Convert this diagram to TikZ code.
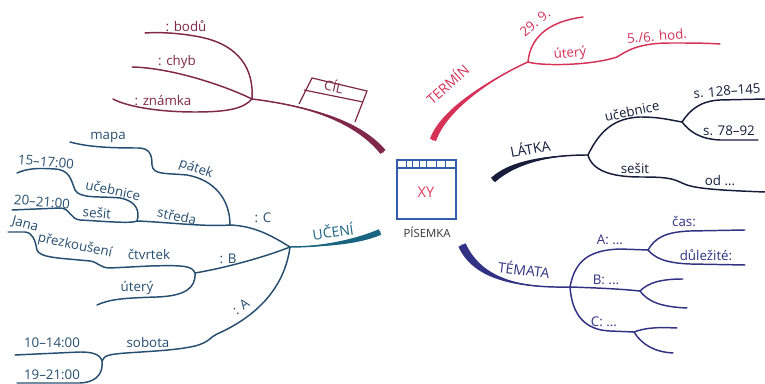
\documentclass[tikz,border=0pt]{standalone}
\usepackage{fontspec}
\setmainfont{Open Sans}

\definecolor{cilcol}{RGB}{128,40,72}
\definecolor{termcol}{RGB}{214,50,88}
\definecolor{latkacol}{RGB}{22,28,58}
\definecolor{temacol}{RGB}{50,50,132}
\definecolor{ucecol}{RGB}{25,100,128}
\definecolor{ucethin}{RGB}{38,78,112}
\definecolor{boxcol}{RGB}{52,92,170}
\definecolor{xycol}{RGB}{222,62,92}

\tikzset{every picture/.style={line width=0.75pt}}
\tikzset{
  twig/.style={line width=1.1pt, line cap=round, line join=round},
  lbl/.style={inner sep=0.75pt, font=\fontsize{10}{12}\selectfont},
  biglbl/.style={inner sep=0.75pt, font=\fontsize{10.5}{12}\selectfont},
}

\begin{document}
\begin{tikzpicture}[x=0.75pt,y=0.75pt,yscale=-1,xscale=1]
\useasboundingbox (0,0) rectangle (765,384);

%Shape: Rectangle [centre box]
\draw [boxcol, line width=1.1pt] (397,160) rectangle (456,219);
\draw [boxcol, line width=1.1pt] (397,168) -- (456,168);
\foreach \x in {406,412,419,426,436,445} \draw [boxcol] (\x,160) -- (\x,168);
\node [biglbl, text=xycol, font=\fontsize{11}{13}\selectfont] (xy) at (426,192) {XY};
\node [lbl, text=black!80, font=\fontsize{8.5}{10}\selectfont] (pisemka) at (427,232) {PÍSEMKA};

%CIL
\coordinate (cilroot) at (383,152);
\coordinate (cilj) at (252,99);
\fill [cilcol] (cilj) .. controls (300,105) and (357,116.4) .. (385.5,150) -- (380.5,154) .. controls (353,119.6) and (300,105) .. (cilj) -- cycle;
\draw [twig, cilcol] (cilj) .. controls (300,105) and (355,118) .. (cilroot);
\draw [twig, cilcol] (cilj) .. controls (254,70) and (240,45) .. (200,37) .. controls (180,33) and (160,32) .. (145,33);
\draw [twig, cilcol] (cilj) .. controls (230,88) and (175,68) .. (132,67);
\draw [twig, cilcol] (cilj) .. controls (244,108) and (230,112) .. (195,112) .. controls (160,112) and (128,107) .. (113,99);
%sign
\draw [cilcol, line width=0.9pt] (299,104) -- (312,78) -- (367,91) -- (355,122);
\draw [cilcol, line width=0.9pt] (304,90) -- (363,102);
\node [lbl, text=cilcol, rotate=-13] (cil) at (334,86) {CÍL};
\node [lbl, text=cilcol] (bodu) at (186,26) {: bodů};
\node [lbl, text=cilcol] (chyb) at (177,62) {: chyb};
\node [lbl, text=cilcol] (znamka) at (163,100) {: známka};

%TERMIN
\coordinate (termroot) at (433,140);
\coordinate (termj) at (528,62);
\fill [termcol] (termj) .. controls (505,72) and (447.8,106) .. (436,141.2) -- (430,138.8) .. controls (442.2,104) and (505,72) .. (termj) -- cycle;
\draw [twig, termcol] (termj) .. controls (505,72) and (445,105) .. (termroot);
\draw [twig, termcol] (termj) .. controls (530,40) and (545,22) .. (583,17);
\draw [twig, termcol] (termj) .. controls (540,66) and (590,66) .. (617,57) .. controls (628,50) and (640,43) .. (670,43) .. controls (690,43) and (705,43) .. (720,44);
\node [biglbl, text=termcol, rotate=42] (termin) at (447,84) {TERMÍN};
\node [lbl, text=termcol, rotate=40] (datum) at (535,23) {29. 9.};
\node [lbl, text=termcol, rotate=5] (utery) at (570,54) {úterý};
\node [lbl, text=termcol, rotate=5] (hod) at (657,36) {5./6. hod.};

%LATKA
\coordinate (latkaroot) at (493,180);
\coordinate (latkaj) at (588,155);
\coordinate (ucebj) at (682,122);
\fill [latkacol] (latkaj) .. controls (555,155) and (517,162.2) .. (495,182.2) -- (491,177.8) .. controls (513,157.8) and (555,155) .. (latkaj) -- cycle;
\draw [twig, latkacol] (latkaj) .. controls (555,155) and (515,160) .. (latkaroot);
\draw [twig, latkacol] (latkaj) .. controls (600,130) and (615,118) .. (640,117) .. controls (660,117) and (670,120) .. (ucebj);
\draw [twig, latkacol] (ucebj) .. controls (690,110) and (700,101) .. (720,100) -- (765,99);
\draw [twig, latkacol] (ucebj) .. controls (690,132) and (700,139) .. (720,140) -- (758,140);
\draw [twig, latkacol] (latkaj) .. controls (592,170) and (610,177) .. (640,177) .. controls (665,177) and (672,178) .. (682,183) .. controls (692,188) and (710,190) .. (765,192);
\node [biglbl, text=latkacol, rotate=10] (latka) at (530,148) {LÁTKA};
\node [lbl, text=latkacol, rotate=12] (ucebnice) at (632,111) {učebnice};
\node [lbl, text=latkacol, rotate=4] (strA) at (727,91) {s. 128–145};
\node [lbl, text=latkacol] (strB) at (729,131) {s. 78–92};
\node [lbl, text=latkacol] (sesit) at (635,168) {sešit};
\node [lbl, text=latkacol] (od) at (720,181) {od ...};

%TEMATA
\coordinate (temaroot) at (462,245);
\coordinate (temaj) at (570,287);
\coordinate (aj) at (648,250);
\coordinate (bj) at (640,291);
\coordinate (cj) at (634,332);
\fill [temacol] (temaj) .. controls (520,288) and (481.6,278.3) .. (465.6,243.3) -- (458.4,246.7) .. controls (474.4,281.7) and (520,288) .. (temaj) -- cycle;
\draw [twig, temacol] (temaj) .. controls (520,288) and (478,280) .. (temaroot);
\draw [twig, temacol] (temaj) .. controls (575,260) and (590,250) .. (620,249) -- (aj);
\draw [twig, temacol] (aj) .. controls (655,238) and (665,232) .. (690,231) -- (745,230);
\draw [twig, temacol] (aj) .. controls (655,258) and (665,263) .. (690,264) -- (745,265);
\draw [twig, temacol] (temaj) .. controls (600,288) and (620,289) .. (bj);
\draw [twig, temacol] (bj) .. controls (648,283) and (660,279) .. (683,279);
\draw [twig, temacol] (bj) .. controls (648,302) and (662,307) .. (687,308);
\draw [twig, temacol] (temaj) .. controls (572,315) and (585,330) .. (610,331) -- (cj);
\draw [twig, temacol] (cj) .. controls (645,328) and (655,327) .. (677,328);
\draw [twig, temacol] (cj) .. controls (642,345) and (655,352) .. (673,353);
\node [biglbl, text=temacol, rotate=-7] (temata) at (524,269) {TÉMATA};
\node [lbl, text=temacol] (tA) at (610,240) {A: ...};
\node [lbl, text=temacol] (cas) at (684,221) {čas:};
\node [lbl, text=temacol] (dulezite) at (706,255) {důležité:};
\node [lbl, text=temacol] (tB) at (606,280) {B: ...};
\node [lbl, text=temacol] (tC) at (604,322) {C: ...};

%UCENI
\coordinate (uceroot) at (380,232);
\coordinate (ucej) at (290,247);
\coordinate (cjn) at (230,225);
\coordinate (fs) at (137,221);
\coordinate (bjn) at (195,273);
\coordinate (ajn) at (102,361);
\fill [ucecol] (ucej) .. controls (315,247) and (356.2,245.75) .. (381.2,234.75) -- (378.8,229.25) .. controls (353.8,240.25) and (315,247) .. (ucej) -- cycle;
\draw [twig, ucecol] (ucej) .. controls (315,247) and (355,243) .. (uceroot);
\draw [twig, ucethin] (ucej) .. controls (272,236) and (255,226) .. (cjn);
\draw [twig, ucethin] (cjn) .. controls (230,200) and (215,180) .. (187,175) .. controls (165,173) and (153,175) .. (152,165) .. controls (152,155) and (150,148) .. (138,148) .. controls (110,148) and (88,147) .. (70,142);
\draw [twig, ucethin] (cjn) .. controls (205,227) and (165,222) .. (fs);
\draw [twig, ucethin] (fs) .. controls (140,212) and (137,201) .. (120,198) .. controls (100,196) and (80,199) .. (75,190) .. controls (71,180) and (70,170) .. (55,169) .. controls (40,168) and (28,168) .. (17,173);
\draw [twig, ucethin] (fs) .. controls (132,224) and (100,221) .. (80,220) .. controls (70,219) and (70,208) .. (60,208) -- (12,210);
\draw [twig, ucethin] (ucej) .. controls (265,257) and (225,268) .. (bjn);
\draw [twig, ucethin] (bjn) .. controls (192,266) and (185,265) .. (150,266) -- (110,268) .. controls (100,268) and (98,262) .. (90,261) .. controls (60,258) and (40,258) .. (37,250) .. controls (35,240) and (33,233) .. (25,232) -- (8,232);
\draw [twig, ucethin] (bjn) .. controls (196,288) and (185,296) .. (157,297) .. controls (125,298) and (110,299) .. (97,305);
\draw [twig, ucethin] (ucej) .. controls (285,285) and (260,315) .. (217,334) .. controls (210,337) and (210,342) .. (195,346) .. controls (170,352) and (120,352) .. (110,355) .. controls (105,356) and (103,358) .. (ajn);
\draw [twig, ucethin] (ajn) .. controls (100,354) and (92,352) .. (80,352) -- (15,355);
\draw [twig, ucethin] (ajn) .. controls (103,370) and (100,382) .. (80,383) -- (17,383);
\node [biglbl, text=ucecol, rotate=8] (uceni) at (333,231) {UČENÍ};
\node [lbl, text=ucethin] (uC) at (263,218) {: C};
\node [lbl, text=ucethin, rotate=-20] (patek) at (196,169) {pátek};
\node [lbl, text=ucethin] (mapa) at (108,137) {mapa};
\node [lbl, text=ucethin, rotate=-12] (streda) at (177,216) {středa};
\node [lbl, text=ucethin, rotate=-12] (ucebnice2) at (113,190) {učebnice};
\node [lbl, text=ucethin, rotate=-5] (cas1) at (46,162) {15–17:00};
\node [lbl, text=ucethin, rotate=-5] (cas2) at (42,202) {20–21:00};
\node [lbl, text=ucethin, rotate=-5] (sesit2) at (97,213) {sešit};
\node [lbl, text=ucethin] (uB) at (228,259) {: B};
\node [lbl, text=ucethin] (ctvrtek) at (149,254) {čtvrtek};
\node [lbl, text=ucethin, rotate=-12] (prezk) at (75,246) {přezkoušení};
\node [lbl, text=ucethin, rotate=-15] (jana) at (25,225) {Jana};
\node [lbl, text=ucethin] (utery2) at (137,288) {úterý};
\node [lbl, text=ucethin, rotate=35] (uA) at (241,307) {: A};
\node [lbl, text=ucethin] (sobota) at (148,343) {sobota};
\node [lbl, text=ucethin] (cas3) at (52,343) {10–14:00};
\node [lbl, text=ucethin] (cas4) at (52,375) {19–21:00};
\end{tikzpicture}
\end{document}
